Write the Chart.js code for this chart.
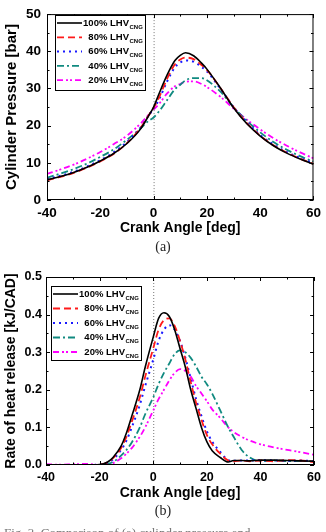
<!DOCTYPE html>
<html>
<head>
<meta charset="utf-8">
<script src="https://cdn.jsdelivr.net/npm/chart.js@4.4.1/dist/chart.umd.min.js"></script>
<style>
  html, body { margin: 0; padding: 0; background: #fff; overflow: hidden; }
  body { width: 326px; height: 532px; position: relative; }
  .wrap { position: absolute; left: 0; width: 326px; }
  .cap { position: absolute; left: 0; width: 326px; text-align: center;
         font-family: "Liberation Serif", "DejaVu Serif", serif; font-size: 14px; color: #222; }
  .fig { position: absolute; left: 4px; top: 525px; white-space: nowrap;
         font-family: "Liberation Serif", serif; font-size: 13px; color: #777; }
</style>
</head>
<body>
<div class="wrap" style="top:0;height:240px"><canvas id="chartP" width="326" height="240"></canvas></div>
<div class="cap" style="top:239px">(a)</div>
<div class="wrap" style="top:250px;height:255px"><canvas id="chartH" width="326" height="255"></canvas></div>
<div class="cap" style="top:503px">(b)</div>
<div class="fig">Fig. 3. Comparison of (a) cylinder pressure and</div>
<script>
// ---------------- DATA ----------------
const labels = ["100% LHV", "80% LHV", "60% LHV", "40% LHV", "20% LHV"];
const sub = "CNG";

// (a) cylinder pressure [bar]
const angleP = [-40,-35,-30,-25,-20,-15,-10,-5,-2,0,2,5,8,10,12,15,18,20,25,30,35,40,45,50,55,60];
const p100 = [5.4,6.3,7.4,8.8,10.5,12.5,15.2,19.0,22.5,25.0,28.5,33.5,37.5,38.9,39.6,38.8,36.8,35.2,30.2,24.8,20.5,17.2,14.6,12.6,11.0,9.6];
const p80  = [5.3,6.2,7.3,8.7,10.4,12.4,15.3,19.3,22.6,24.8,27.5,32.5,36.5,37.8,38.3,37.9,36.3,35.0,30.2,25.0,20.7,17.3,14.7,12.7,11.1,9.7];
const p60  = [5.6,6.5,7.6,9.0,10.7,12.8,15.6,19.4,22.6,24.6,27.0,31.8,35.7,37.0,37.5,37.2,35.8,34.6,30.0,25.0,20.9,17.5,14.9,12.9,11.3,9.9];
const p40  = [6.0,7.1,8.3,9.8,11.6,13.6,16.2,19.2,21.2,22.2,23.8,26.8,29.8,31.0,32.2,32.8,32.8,32.2,29.2,25.0,21.3,18.2,15.6,13.5,11.8,10.3];
const p20  = [7.0,8.2,9.5,11.1,12.9,15.0,17.3,20.5,22.8,24.3,25.8,28.6,30.6,31.2,31.8,31.9,31.2,30.4,27.8,24.6,21.6,19.0,16.6,14.6,12.8,11.2];

// (b) rate of heat release [kJ/CAD]
const angleH = [-40,-35,-30,-25,-20,-17,-15,-12,-10,-8,-5,-3,0,2,4,6,8,10,12,14,16,18,20,22,25,28,30,33,36,40,45,50,55,60];
const h100 = [0,0,0,0,0.001,0.008,0.02,0.05,0.085,0.13,0.2,0.26,0.34,0.39,0.405,0.395,0.36,0.31,0.26,0.2,0.15,0.1,0.062,0.038,0.02,0.008,0.012,0.012,0.011,0.013,0.013,0.012,0.011,0.01];
const h80  = [0,0,0,0,0.001,0.007,0.018,0.045,0.075,0.115,0.18,0.235,0.31,0.36,0.385,0.39,0.37,0.33,0.28,0.22,0.165,0.12,0.08,0.055,0.03,0.012,0.01,0.012,0.01,0.012,0.01,0.013,0.012,0.008];
const h60  = [0,0,0,0,0.001,0.006,0.015,0.04,0.065,0.1,0.16,0.21,0.28,0.33,0.36,0.372,0.36,0.33,0.285,0.23,0.175,0.13,0.09,0.062,0.035,0.013,0.011,0.012,0.012,0.013,0.012,0.011,0.012,0.01];
const h40  = [0,0,0,0,0,0.003,0.008,0.025,0.04,0.06,0.1,0.135,0.18,0.215,0.245,0.27,0.295,0.305,0.3,0.285,0.262,0.235,0.215,0.19,0.145,0.1,0.075,0.04,0.02,0.01,0.012,0.01,0.011,0.01];
const h20  = [0.002,0.001,0.002,0.003,0,0.002,0.005,0.018,0.03,0.045,0.075,0.1,0.145,0.175,0.2,0.225,0.245,0.255,0.25,0.235,0.21,0.19,0.17,0.148,0.125,0.1,0.088,0.075,0.065,0.055,0.047,0.04,0.034,0.027];

// ---------------- STYLES ----------------
const styles = [
    { color: "#000000", dash: [],                 width: 1.6 },
    { color: "#ff1a1a", dash: [7, 4],             width: 1.8 },
    { color: "#1a1aff", dash: [2, 4],             width: 2 },
    { color: "#108a80", dash: [7, 3, 2, 3],       width: 1.8 },
    { color: "#ff00ff", dash: [6, 3, 2, 2, 2, 3], width: 1.8 }
];

const FONT = "'Liberation Sans', Arial, sans-serif";

function makeSets(xs, series) {
    return series.map((ys, i) => ({
        label: labels[i],
        data: xs.map((x, k) => ({ x: x, y: ys[k] })),
        borderColor: styles[i].color,
        borderDash: styles[i].dash,
        borderWidth: styles[i].width,
        pointRadius: 0,
        fill: false,
        cubicInterpolationMode: "monotone"
    }));
}

// frame, inward ticks, dotted zero line, custom legend with subscript
const framePlugin = {
    id: "frame",
    beforeDatasetsDraw(chart) {
        const { ctx, chartArea: a, scales: { x } } = chart;
        const px = x.getPixelForValue(0);
        ctx.save();
        ctx.strokeStyle = "#777";
        ctx.lineWidth = 1;
        ctx.setLineDash([1, 2]);
        ctx.beginPath();
        ctx.moveTo(px + 0.5, a.top);
        ctx.lineTo(px + 0.5, a.bottom);
        ctx.stroke();
        ctx.restore();
    },
    afterDatasetsDraw(chart, args, opts) {
        const { ctx, chartArea: a, scales: { x, y } } = chart;
        ctx.save();
        ctx.strokeStyle = "#000";
        ctx.lineWidth = 1;
        ctx.setLineDash([]);
        ctx.strokeRect(a.left + 0.5, a.top + 0.5, a.right - a.left - 1, a.bottom - a.top - 1);
        ctx.beginPath();
        for (let v = -40; v <= 60; v += 10) {
            const p = Math.round(x.getPixelForValue(v)) + 0.5;
            const len = (v % 20 === 0) ? 4 : 2.5;
            ctx.moveTo(p, a.bottom); ctx.lineTo(p, a.bottom - len);
            ctx.moveTo(p, a.top); ctx.lineTo(p, a.top + len);
        }
        for (let k = 0; k <= opts.nMinor; k++) {
            const v = k * opts.minor;
            const p = Math.round(y.getPixelForValue(v)) + 0.5;
            const len = (k % 2 === 0) ? 4 : 2.5;
            ctx.moveTo(a.left, p); ctx.lineTo(a.left + len, p);
            ctx.moveTo(a.right, p); ctx.lineTo(a.right - len, p);
        }
        ctx.stroke();

        // legend
        const L = opts.legend;
        ctx.fillStyle = "#fff";
        ctx.fillRect(L.x, L.y, L.w, L.h);
        ctx.strokeRect(L.x + 0.5, L.y + 0.5, L.w, L.h);
        chart.data.datasets.forEach((ds, i) => {
            const yy = L.y + 8 + i * L.row;
            ctx.strokeStyle = ds.borderColor;
            ctx.lineWidth = ds.borderWidth;
            ctx.setLineDash(ds.borderDash);
            ctx.beginPath();
            ctx.moveTo(L.x + 2, yy);
            ctx.lineTo(L.x + 27, yy);
            ctx.stroke();
            ctx.setLineDash([]);
            ctx.fillStyle = "#000";
            ctx.font = "bold 9.5px " + FONT;
            ctx.textAlign = "right";
            ctx.textBaseline = "middle";
            ctx.fillText(ds.label, L.x + 74, yy);
            ctx.font = "bold 6px " + FONT;
            ctx.textAlign = "left";
            ctx.fillText(sub, L.x + 74.5, yy + 4);
        });
        ctx.restore();
    }
};

function buildOptions(cfg) {
    return {
        responsive: false,
        animation: false,
        layout: { padding: { top: cfg.padTop, right: 10, left: 0, bottom: 0 } },
        plugins: {
            legend: { display: false },
            tooltip: { enabled: false },
            frame: cfg.frame
        },
        scales: {
            x: {
                type: "linear", min: -40, max: 60,
                grid: { display: false, drawTicks: false },
                border: { display: false },
                ticks: { stepSize: 20, padding: 5, color: "#000", font: { family: FONT, weight: "bold", size: cfg.tickSize } },
                title: { display: true, text: "Crank Angle [deg]", color: "#000", padding: { top: 0, bottom: 3 },
                         font: { family: FONT, weight: "bold", size: 14 } },
                afterFit(s) { s.height = cfg.xHeight; }
            },
            y: {
                min: 0, max: cfg.yMax,
                grid: { display: false, drawTicks: false },
                border: { display: false },
                ticks: { stepSize: cfg.yStep, padding: cfg.yPad, color: "#000",
                         font: { family: FONT, weight: "bold", size: cfg.tickSize },
                         callback: cfg.fmt },
                title: { display: true, text: cfg.yTitle, color: "#000", padding: { top: 3, bottom: 0 },
                         font: { family: FONT, weight: "bold", size: cfg.yTitleSize } },
                afterFit(s) { s.width = cfg.yWidth; }
            }
        }
    };
}

new Chart(document.getElementById("chartP"), {
    type: "line",
    data: { datasets: makeSets(angleP, [p100, p80, p60, p40, p20]) },
    options: buildOptions({
        padTop: 7, xHeight: 40, yWidth: 47, yMax: 50, yStep: 10, yPad: 6,
        tickSize: 13.5, yTitle: "Cylinder Pressure [bar]", yTitleSize: 15,
        fmt: v => v,
        frame: { minor: 5, nMinor: 10, legend: { x: 55, y: 15, w: 90, h: 75, row: 14.3 } }
    }),
    plugins: [framePlugin]
});

new Chart(document.getElementById("chartH"), {
    type: "line",
    data: { datasets: makeSets(angleH, [h100, h80, h60, h40, h20]) },
    options: buildOptions({
        padTop: 27, xHeight: 40, yWidth: 46, yMax: 0.5, yStep: 0.1, yPad: 4,
        tickSize: 12.5, yTitle: "Rate of heat release [kJ/CAD]", yTitleSize: 14,
        fmt: v => Number(v).toFixed(1),
        frame: { minor: 0.05, nMinor: 10, legend: { x: 51, y: 36, w: 90, h: 74, row: 14.5 } }
    }),
    plugins: [framePlugin]
});
</script>
</body>
</html>
